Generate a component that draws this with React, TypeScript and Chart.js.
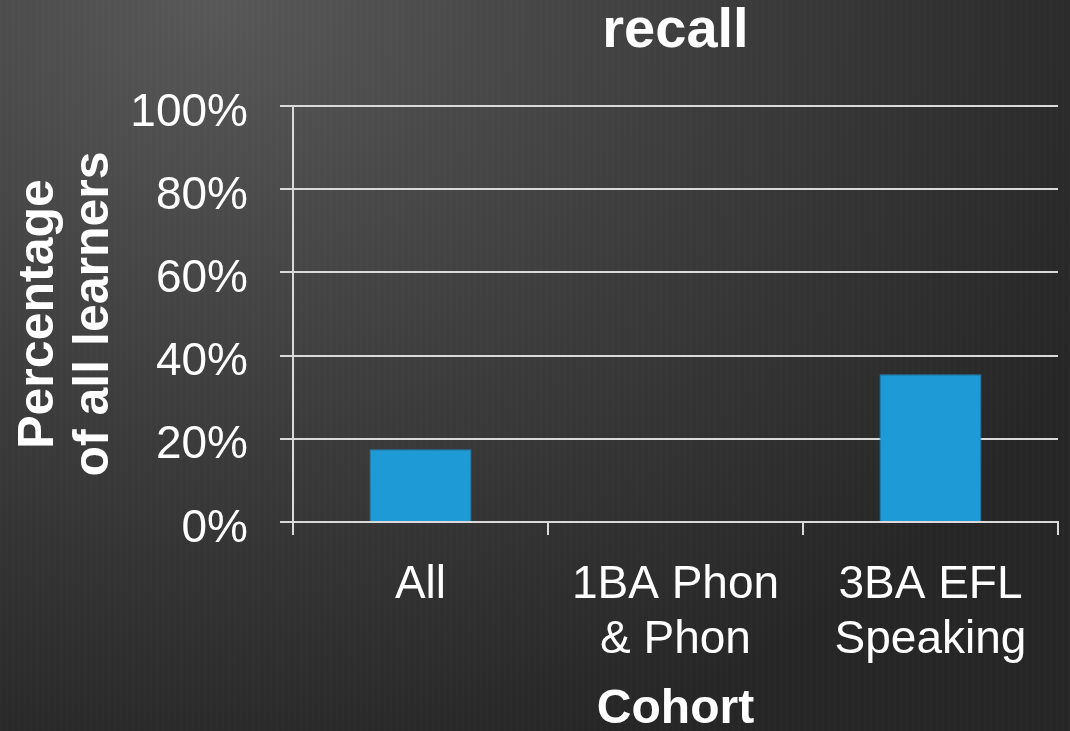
import React, { useEffect, useRef } from "react";
import { Chart, registerables } from "chart.js";

Chart.register(...registerables);

const categories: (string | string[])[] = ["All", ["1BA Phon", "& Phon"], ["3BA EFL", "Speaking"]];
const recallValues: number[] = [17.5, 0, 35.5];
const yTickValues: number[] = [0, 20, 40, 60, 80, 100];
const chartTitle = "recall";
const xAxisTitle = "Cohort";
const yAxisTitle: string[] = ["Percentage", "of all learners"];

const FONT = "'Liberation Sans', Arial, Helvetica, sans-serif";
const GRID = "#dadada";

export default function App() {
  const canvasRef = useRef<HTMLCanvasElement | null>(null);

  useEffect(() => {
    document.body.style.margin = "0";
    const canvas = canvasRef.current;
    if (!canvas) return;
    const chart = new Chart(canvas, {
      type: "bar",
      data: {
        labels: categories,
        datasets: [
          {
            label: chartTitle,
            data: recallValues,
            backgroundColor: "#1e9ad6",
            borderColor: "#1a86bd",
            borderWidth: { top: 1, left: 1, right: 1, bottom: 0 },
            barPercentage: 0.4,
            categoryPercentage: 1,
          },
        ],
      },
      options: {
        animation: false,
        responsive: true,
        maintainAspectRatio: false,
        layout: { padding: { left: 0, right: 12, top: 0, bottom: 0 } },
        plugins: {
          legend: { display: false },
          tooltip: { enabled: false },
          title: {
            display: true,
            text: chartTitle,
            fullSize: false,
            color: "#ffffff",
            font: { family: FONT, size: 56, weight: "bold", lineHeight: 1 },
            padding: { top: 4, bottom: 46 },
          },
        },
        scales: {
          x: {
            grid: {
              offset: true,
              drawOnChartArea: false,
              drawTicks: true,
              tickLength: 13,
              color: GRID,
              lineWidth: 2,
            },
            border: { display: true, color: GRID, width: 2 },
            ticks: {
              color: "#ffffff",
              padding: 23,
              maxRotation: 0,
              autoSkip: false,
              font: { family: FONT, size: 46, lineHeight: 1.2 },
            },
            title: {
              display: true,
              text: xAxisTitle,
              color: "#ffffff",
              padding: 0,
              font: { family: FONT, size: 48, weight: "bold", lineHeight: 0.9 },
            },
            afterFit: (scale: any) => {
              scale.height = 209;
            },
          },
          y: {
            min: 0,
            max: 100,
            afterBuildTicks: (scale: any) => {
              scale.ticks = yTickValues.map((v) => ({ value: v }));
            },
            grid: {
              drawTicks: true,
              tickLength: 13,
              color: GRID,
              lineWidth: 2,
            },
            border: { display: true, color: GRID, width: 2 },
            ticks: {
              color: "#ffffff",
              padding: 32,
              labelOffset: 7,
              font: { family: FONT, size: 46, lineHeight: 1.2 },
              callback: (v: any) => `${v}%`,
            },
            title: {
              display: true,
              text: yAxisTitle,
              color: "#ffffff",
              padding: { top: 12, bottom: 0 },
              font: { family: FONT, size: 50, weight: "bold", lineHeight: 55 / 50 },
            },
            afterFit: (scale: any) => {
              scale.width = 293;
            },
          },
        },
      },
    });
    return () => chart.destroy();
  }, []);

  return (
    <div
      style={{
        position: "relative",
        width: 1070,
        height: 731,
        overflow: "hidden",
        background:
          "repeating-linear-gradient(90deg, rgba(255,255,255,0.01) 0px, rgba(255,255,255,0.01) 2px, rgba(0,0,0,0) 2px, rgba(0,0,0,0) 6px), radial-gradient(ellipse 90% 110% at 20% 0%, #585858 0%, #3b3b3b 55%, #262626 100%)",
      }}
    >
      <canvas ref={canvasRef} />
    </div>
  );
}
